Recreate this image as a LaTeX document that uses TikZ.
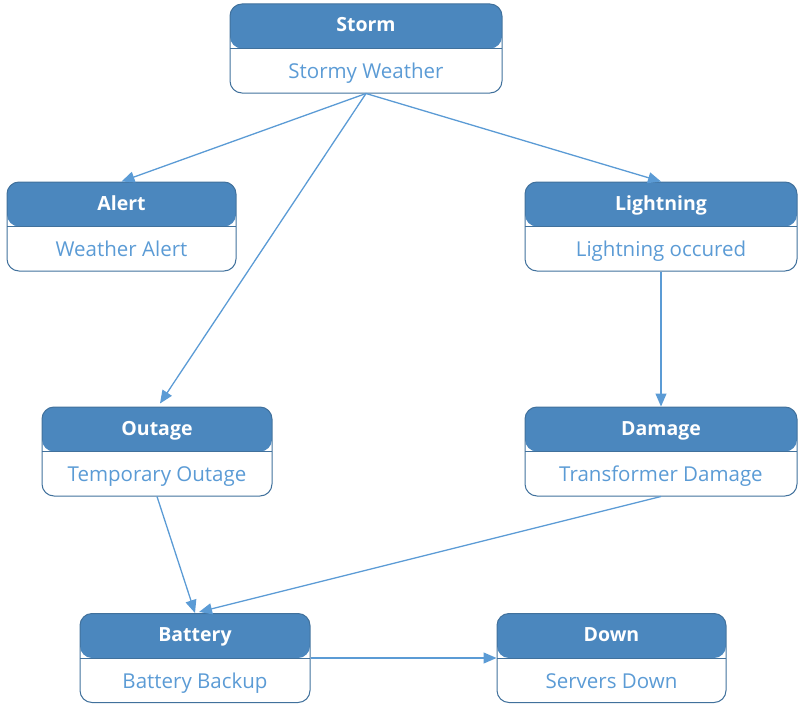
\documentclass[tikz,border=0pt]{standalone}
\usepackage{fontspec}
\setmainfont{Open Sans}
\usepackage{tikz}
\usetikzlibrary{arrows.meta}

\definecolor{hdrfill}{HTML}{4B87BE}
\definecolor{boxline}{HTML}{41719C}
\definecolor{subtext}{HTML}{5B9BD5}
\definecolor{linkcol}{HTML}{5B9BD5}

\tikzset{
  box/.style={draw=boxline, line width=1pt, rounded corners=12pt,
    minimum height=89pt, inner sep=0pt,
    path picture={
      \fill[hdrfill] (path picture bounding box.north west) rectangle (path picture bounding box.east);
      \draw[boxline, line width=0.8pt] (path picture bounding box.west) -- (path picture bounding box.east);
    }},
  title/.style={text=white, font=\fontsize{19.5}{22}\selectfont\bfseries, inner sep=0pt, anchor=base},
  sub/.style={text=subtext, font=\fontsize{20.5}{24}\selectfont, inner sep=0pt, anchor=base},
  link/.style={draw=linkcol, line width=1.3pt, -{Triangle[length=13pt,width=11pt]}}
}

\begin{document}
\begin{tikzpicture}[x=1pt,y=-1pt]
    \useasboundingbox (0,0) rectangle (806,717);
    % boxes
    \node[box, minimum width=272pt] (storm) at (366,48.5) {};
    \node[title] (storm-t) at ([yshift=-28.5pt]storm.north) {Storm};
    \node[sub] (storm-s) at ([yshift=15pt]storm.south) {Stormy Weather};

    \node[box, minimum width=229pt] (alert) at (121.5,226.5) {};
    \node[title] (alert-t) at ([yshift=-28.5pt]alert.north) {Alert};
    \node[sub] (alert-s) at ([yshift=15pt]alert.south) {Weather Alert};

    \node[box, minimum width=272pt] (light) at (661,226.5) {};
    \node[title] (light-t) at ([yshift=-28.5pt]light.north) {Lightning};
    \node[sub] (light-s) at ([yshift=15pt]light.south) {Lightning occured};

    \node[box, minimum width=230pt] (outage) at (157,451.5) {};
    \node[title] (outage-t) at ([yshift=-28.5pt]outage.north) {Outage};
    \node[sub] (outage-s) at ([yshift=15pt]outage.south) {Temporary Outage};

    \node[box, minimum width=272pt] (damage) at (661,451.5) {};
    \node[title] (damage-t) at ([yshift=-28.5pt]damage.north) {Damage};
    \node[sub] (damage-s) at ([yshift=15pt]damage.south) {Transformer Damage};

    \node[box, minimum width=230pt] (battery) at (195,658) {};
    \node[title] (battery-t) at ([yshift=-28.5pt]battery.north) {Battery};
    \node[sub] (battery-s) at ([yshift=15pt]battery.south) {Battery Backup};

    \node[box, minimum width=229pt] (down) at (611.5,658) {};
    \node[title] (down-t) at ([yshift=-28.5pt]down.north) {Down};
    \node[sub] (down-s) at ([yshift=15pt]down.south) {Servers Down};

    % links
    \draw[link] (storm.south) -- (alert.north);
    \draw[link] (storm.south) -- (light.north);
    \draw[link] (storm.south) -- ([xshift=3pt,yshift=3pt]outage.north);
    \draw[link] (light.south) -- (damage.north);
    \draw[link] (outage.south) -- (battery.north);
    \draw[link] (damage.south) -- ([xshift=4pt,yshift=1pt]battery.north);
    \draw[link] (battery.east) -- (down.west);
\end{tikzpicture}
\end{document}
